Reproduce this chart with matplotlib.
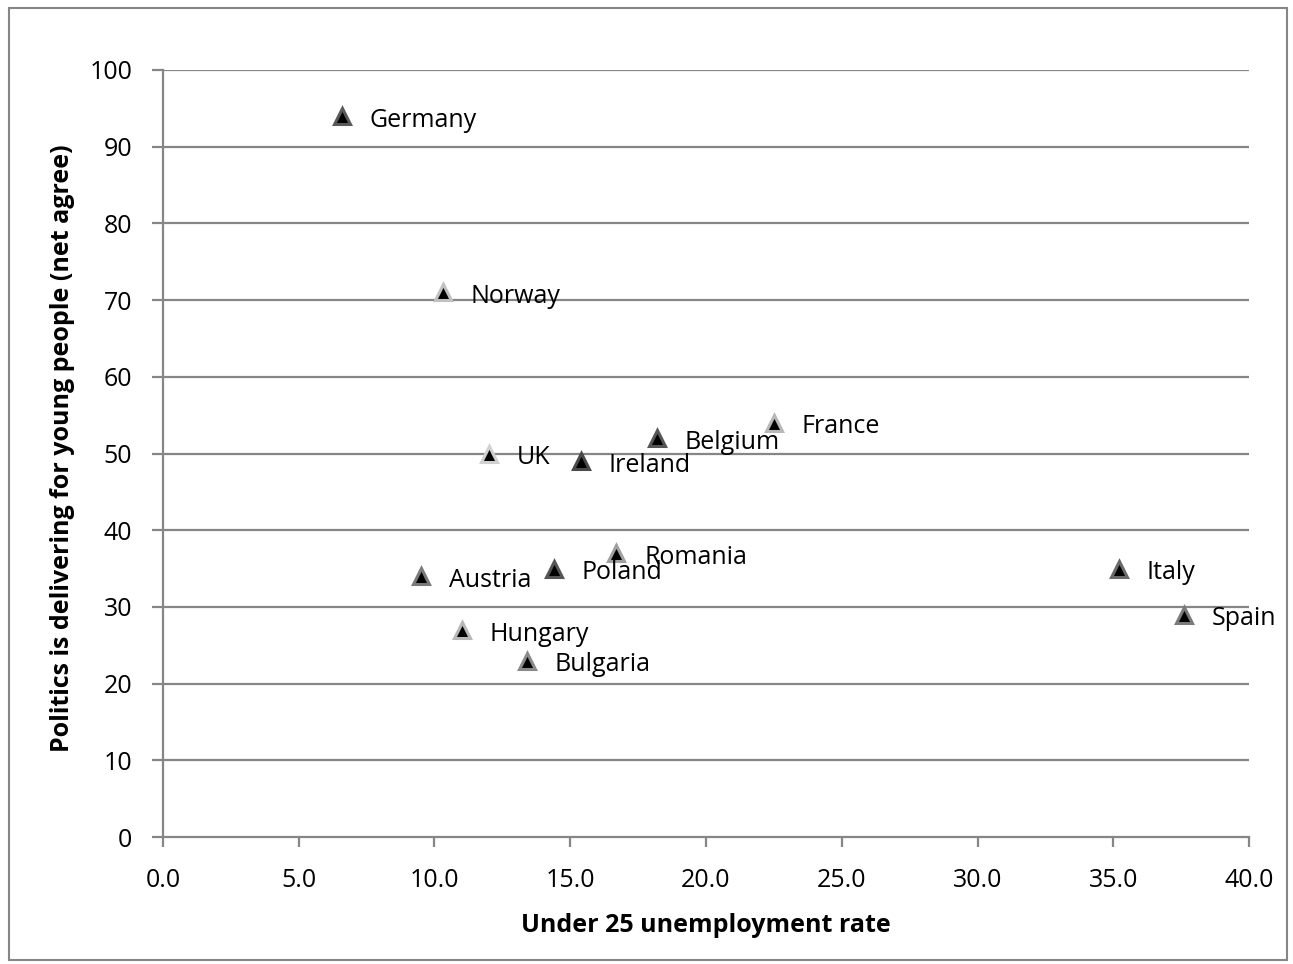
import matplotlib
matplotlib.use("Agg")
import matplotlib.pyplot as plt
from matplotlib.patches import Rectangle

plt.rcParams['font.family'] = ['Open Sans', 'DejaVu Sans']

countries = ["Germany", "Norway", "UK", "Ireland", "Belgium", "France", "Romania",
             "Austria", "Poland", "Hungary", "Bulgaria", "Italy", "Spain"]
unemployment = [6.6, 10.3, 12.0, 15.4, 18.2, 22.5, 16.7, 9.5, 14.4, 11.0, 13.4, 35.2, 37.6]
net_agree = [94, 71, 50, 49, 52, 54, 37, 34, 35, 27, 23, 35, 29]
xticks = [0, 5, 10, 15, 20, 25, 30, 35, 40]
yticks = [0, 10, 20, 30, 40, 50, 60, 70, 80, 90, 100]

edge_cols = ["#595959", "#c0c0c0", "#d0d0d0", "#4a4a4a", "#555555", "#b8b8b8", "#a0a0a0",
             "#7a7a7a", "#555555", "#b8b8b8", "#8a8a8a", "#6a6a6a", "#7a7a7a"]

fs = 18
fig = plt.figure(figsize=(12.93, 9.64), dpi=100)
ax = fig.add_axes([0.126, 0.1317, 0.840, 0.7957])

grid_c = "#868686"
for y in yticks[1:]:
    ax.axhline(y, color=grid_c, lw=1.6, zorder=1)

for x, y, c, lab in zip(unemployment, net_agree, edge_cols, countries):
    ax.plot(x, y, marker='^', ms=12, mfc='black', mec=c, mew=2.2, ls='none', zorder=3)
    ax.annotate(lab, (x, y), xytext=(20, -3), textcoords='offset points',
                ha='left', va='center', fontsize=fs, color='black', zorder=4)

ax.set_xlim(0, 40)
ax.set_ylim(0, 100)
ax.set_xticks(xticks)
ax.set_xticklabels([f"{v:.1f}" for v in xticks])
ax.set_yticks(yticks)
ax.set_yticklabels([str(v) for v in yticks])
for s in ['top', 'right']:
    ax.spines[s].set_visible(False)
for s in ['left', 'bottom']:
    ax.spines[s].set_color(grid_c)
    ax.spines[s].set_linewidth(1.6)
ax.tick_params(axis='y', direction='out', length=8, width=1.6, color=grid_c, labelsize=fs, pad=14)
ax.tick_params(axis='x', direction='out', length=7, width=1.6, color=grid_c, labelsize=fs, pad=15)

ax.set_xlabel("Under 25 unemployment rate", fontsize=18, fontweight='bold')
ax.set_ylabel("Politics is delivering for young people (net agree)", fontsize=18,
              fontweight='bold', va='center')
ax.xaxis.set_label_coords(0.5, -0.099)
ax.yaxis.set_label_coords(-0.092, 0.507)

fig.patches.append(Rectangle((0.007, 0.004), 0.988, 0.988, transform=fig.transFigure,
                             fill=False, edgecolor='#868686', lw=1.5))

fig.savefig("out.png", dpi=100)
